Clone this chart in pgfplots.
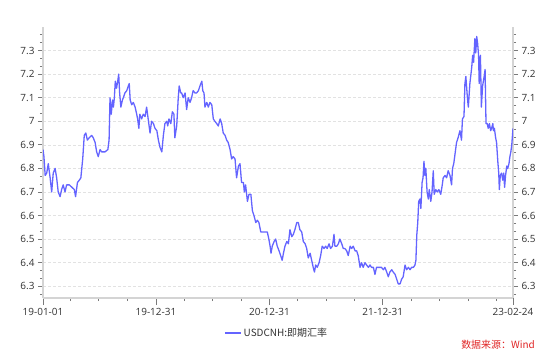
\documentclass[border=0pt]{standalone}
\usepackage{pgfplots}
\usepackage{pgfplotstable}
\pgfplotsset{compat=1.18}
\usepackage{fontspec}
\setmainfont{Open Sans}
\newfontfamily\cjk{Noto Sans CJK SC}
\definecolor{linec}{HTML}{6464FF}
\definecolor{axisgray}{HTML}{D4D4D4}
\definecolor{tickgray}{HTML}{7A7A7A}
\definecolor{gridgray}{HTML}{E2E2E2}
\definecolor{txt}{HTML}{333333}
\definecolor{src}{HTML}{E02424}

% day = days since 2019-01-01, val = USDCNH spot
\pgfplotstableread{
day val
0 6.88
3 6.85
7 6.77
12 6.78
17 6.82
23 6.76
28 6.70
33 6.78
39 6.80
44 6.76
49 6.70
55 6.68
60 6.71
65 6.73
71 6.70
76 6.73
85 6.73
93 6.72
101 6.71
105 6.68
111 6.74
117 6.75
122 6.76
128 6.84
133 6.94
138 6.95
143 6.92
149 6.93
157 6.94
162 6.93
168 6.91
173 6.87
178 6.85
184 6.88
189 6.87
200 6.87
209 6.88
213 6.92
216 7.10
220 7.03
224 7.09
227 7.06
230 7.10
233 7.17
237 7.14
242 7.18
244 7.20
247 7.12
251 7.06
256 7.09
259 7.10
264 7.12
270 7.13
275 7.15
278 7.16
281 7.09
286 7.07
291 7.08
297 7.06
302 7.03
305 7.01
309 6.97
312 7.03
318 7.01
323 7.03
329 7.02
334 7.06
339 7.01
345 6.95
350 7.00
356 6.99
361 6.97
367 6.96
372 6.92
377 6.89
383 6.87
388 6.94
393 6.99
399 7.00
402 6.98
406 7.01
412 6.99
417 7.04
422 7.03
425 6.93
431 6.98
436 7.10
439 7.15
444 7.12
447 7.12
452 7.10
458 7.12
463 7.05
468 7.10
474 7.08
479 7.10
484 7.13
490 7.12
495 7.12
501 7.13
506 7.15
512 7.17
515 7.13
519 7.12
522 7.06
528 7.08
533 7.06
538 7.08
544 7.07
549 7.01
554 7.00
560 6.99
565 6.98
571 7.01
576 6.99
581 6.95
587 6.94
592 6.92
597 6.91
603 6.88
608 6.84
613 6.85
619 6.84
624 6.76
630 6.81
635 6.82
640 6.74
646 6.74
649 6.70
653 6.73
659 6.66
664 6.69
670 6.69
675 6.62
680 6.60
686 6.57
691 6.58
696 6.57
702 6.53
707 6.53
712 6.53
718 6.53
723 6.53
728 6.50
732 6.47
735 6.44
739 6.47
745 6.49
750 6.50
755 6.47
761 6.45
766 6.43
771 6.41
775 6.44
780 6.47
786 6.49
791 6.48
796 6.54
802 6.51
807 6.52
812 6.54
818 6.57
823 6.57
828 6.54
834 6.53
839 6.49
845 6.48
850 6.46
855 6.42
861 6.44
866 6.41
871 6.38
875 6.36
879 6.39
884 6.38
890 6.40
895 6.43
900 6.47
906 6.46
911 6.47
916 6.46
922 6.48
927 6.46
933 6.47
938 6.52
941 6.47
947 6.47
952 6.48
957 6.50
963 6.48
968 6.46
973 6.46
979 6.45
984 6.43
990 6.47
995 6.46
1000 6.47
1006 6.45
1011 6.45
1016 6.43
1022 6.38
1027 6.40
1032 6.38
1038 6.40
1043 6.39
1049 6.38
1054 6.39
1059 6.38
1065 6.38
1070 6.35
1075 6.38
1081 6.38
1086 6.38
1091 6.38
1097 6.37
1102 6.38
1108 6.36
1113 6.34
1118 6.36
1124 6.37
1129 6.36
1135 6.35
1140 6.33
1145 6.31
1151 6.31
1156 6.33
1161 6.34
1167 6.39
1172 6.37
1178 6.38
1183 6.37
1188 6.38
1194 6.38
1199 6.39
1202 6.41
1205 6.52
1208 6.57
1211 6.66
1215 6.67
1218 6.63
1222 6.74
1225 6.76
1228 6.83
1231 6.77
1234 6.80
1238 6.70
1242 6.67
1245 6.71
1250 6.66
1254 6.70
1258 6.79
1261 6.69
1266 6.71
1271 6.70
1276 6.71
1282 6.69
1287 6.73
1290 6.76
1296 6.77
1301 6.76
1306 6.79
1312 6.77
1317 6.73
1320 6.80
1324 6.82
1329 6.87
1333 6.91
1338 6.93
1344 6.96
1349 6.92
1352 7.01
1357 7.02
1360 7.16
1363 7.19
1368 7.10
1371 7.06
1376 7.16
1382 7.23
1385 7.28
1388 7.25
1392 7.35
1395 7.29
1398 7.36
1401 7.33
1404 7.28
1406 7.16
1410 7.28
1413 7.06
1417 7.15
1422 7.19
1425 7.22
1428 6.99
1432 6.99
1435 6.97
1439 6.99
1443 6.96
1446 6.97
1450 6.99
1452 6.96
1455 6.97
1459 6.93
1462 6.91
1466 6.83
1469 6.78
1471 6.71
1474 6.77
1478 6.78
1482 6.75
1485 6.78
1488 6.72
1491 6.77
1495 6.81
1498 6.80
1502 6.82
1505 6.85
1508 6.87
1511 6.90
1515 6.97
}\usdcnh

\pgfplotsset{
  common/.style={
    at={(43bp,59bp)}, anchor=south west,
    scale only axis, width=470bp, height=271bp,
    xmin=0, xmax=1515, ymin=6.25, ymax=7.4,
    tick align=outside,
    major tick length=5bp, minor tick length=3bp,
    tick style={draw=tickgray, line width=0.7bp},
    axis line style={draw=axisgray, line width=1.6bp, -},
    ticklabel style={font=\fontsize{10}{12}\selectfont, text=txt},
    /pgf/number format/assume math mode=true,
  },
  yticks/.style={
    ytick={6.3,6.4,6.5,6.6,6.7,6.8,6.9,7.0,7.1,7.2,7.3},
    minor ytick={6.2667,6.3333,6.3667,6.4333,6.4667,6.5333,6.5667,6.6333,6.6667,6.7333,6.7667,6.8333,6.8667,6.9333,6.9667,7.0333,7.0667,7.1333,7.1667,7.2333,7.2667,7.3333,7.3667},
  }
}

\begin{document}
\begin{tikzpicture}
\useasboundingbox (0,0) rectangle (554bp,357bp);
% left y axis with grid
\begin{axis}[
  common, yticks,
  axis x line=none, axis y line*=left,
  ymajorgrids,
  major grid style={draw=gridgray, line width=0.6bp, dash pattern=on 3bp off 2bp},
]
\end{axis}
% right y axis
\begin{axis}[
  common, yticks,
  axis x line=none, axis y line*=right,
  yticklabel pos=right,
]
\end{axis}
% x axis and series
\begin{axis}[
  common,
  major tick length=7bp,
  axis x line*=bottom, axis y line*=left,
  ytick=\empty,
  xtick={0,364,730,1095,1515},
  xticklabels={19-01-01,19-12-31,20-12-31,21-12-31,23-02-24},
  minor xtick={88,180,273,455,547,639,820,912,1004,1186,1278,1370,1460},
  legend style={at={(0.497,-0.129)}, anchor=center, draw=none, fill=none,
    font=\cjk\fontsize{10}{12}\selectfont, text=txt, inner sep=0pt},
  legend image code/.code={\draw[#1, line width=1.5bp] (0bp,0bp) -- (16bp,0bp);},
]
\addplot[linec, line width=1.3bp, line join=round] table[x=day, y=val]{\usdcnh};
\addlegendentry{USDCNH:即期汇率}
\end{axis}
\node[anchor=east, text=src, font=\cjk\fontsize{10}{12}\selectfont, inner sep=0pt] at (535bp,12bp) {数据来源：Wind};
\end{tikzpicture}
\end{document}
